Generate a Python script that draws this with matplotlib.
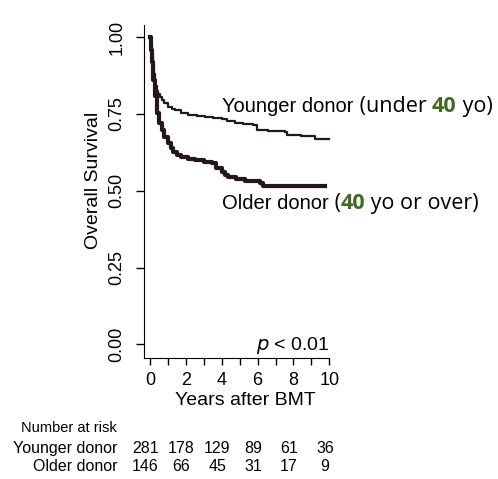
import numpy as np
import matplotlib
matplotlib.use('Agg')
from matplotlib import pyplot as plt
from matplotlib import transforms

plt.rcParams['font.family'] = ['Liberation Sans', 'DejaVu Sans']

# Kaplan-Meier curves (years, survival)
young_t = [0, 0.05, 0.1, 0.15, 0.2, 0.25, 0.3, 0.36, 0.45, 0.55, 0.64, 0.8, 1.0, 1.2,
           1.38, 1.7, 2.12, 2.6, 3.06, 3.5, 3.99, 4.3, 4.73, 5.2, 5.76, 5.94, 6.6,
           7.53, 7.62, 8.4, 9.1, 9.2, 10.0]
young_s = [1.0, 0.97, 0.94, 0.91, 0.88, 0.86, 0.84, 0.826, 0.815, 0.805, 0.796, 0.785,
           0.774, 0.768, 0.763, 0.755, 0.747, 0.743, 0.739, 0.736, 0.733, 0.728, 0.72,
           0.716, 0.714, 0.698, 0.696, 0.693, 0.682, 0.68, 0.678, 0.668, 0.668]
old_t = [0, 0.05, 0.1, 0.17, 0.25, 0.36, 0.5, 0.64, 0.8, 1.0, 1.15, 1.28, 1.5, 1.75,
         2.1, 2.5, 3.0, 3.43, 3.7, 3.99, 4.2, 4.36, 4.8, 5.29, 6.13, 6.31, 9.76]
old_s = [1.0, 0.96, 0.92, 0.861, 0.81, 0.752, 0.72, 0.698, 0.675, 0.655, 0.64, 0.627,
         0.618, 0.611, 0.605, 0.6, 0.595, 0.59, 0.575, 0.562, 0.553, 0.546, 0.54,
         0.533, 0.526, 0.516, 0.516]

# Number at risk table
risk_times = [0, 2, 4, 6, 8, 10]
risk_young = [281, 178, 129, 89, 61, 36]
risk_old = [146, 66, 45, 31, 17, 9]
group_names = ['Younger donor', 'Older donor']

xticks = list(range(11))
xticklabels = ['0', '', '2', '', '4', '', '6', '', '8', '', '10']
yticks = [0, 0.25, 0.5, 0.75, 1.0]
yticklabels = ['0.00', '0.25', '0.50', '0.75', '1.00']

ink = '#231815'
green = '#3f6a22'

fig = plt.figure(figsize=(4.98, 4.79), dpi=100)
ax = fig.add_axes([0.2898, 0.2532, 0.3859, 0.6946])

ax.step(young_t, young_s, where='post', color=ink, lw=1.6)
ax.step(old_t, old_s, where='post', color=ink, lw=3.0)

ax.set_xlim(-0.32, 10.4)
ax.set_ylim(-0.0436, 1.04)

# R-style axes
ax.spines['top'].set_visible(False)
ax.spines['right'].set_visible(False)
ax.spines['bottom'].set_bounds(-0.32, 10)
ax.set_xticks(xticks)
ax.set_xticklabels(xticklabels, fontsize=13)
ax.set_yticks(yticks)
ax.set_yticklabels(yticklabels, fontsize=13, rotation=90, va='center')
ax.tick_params(axis='x', length=5, width=1, pad=5)
ax.tick_params(axis='y', length=6, width=1, pad=7.5)

ax.set_xlabel('Years after BMT', fontsize=14, va='center')
ax.xaxis.set_label_coords(0.524, -0.13)
ax.set_ylabel('Overall Survival', fontsize=14, va='center')
ax.yaxis.set_label_coords(-0.265, 0.534)

# p value
ax.text(10, -0.019, '$p$ < 0.01', fontsize=14, ha='right', va='baseline')

# curve labels with coloured age
def label(x, y, first, parts):
    t = ax.text(x, y, first, fontsize=14.5, ha='left', va='baseline', clip_on=False)
    for s, c, w in parts:
        t = ax.annotate(s, xy=(1, y), xycoords=(t, 'data'), fontsize=15.5,
                        family='Open Sans', color=c, fontweight=w,
                        ha='left', va='baseline', annotation_clip=False)

label(4.02, 0.757, 'Younger donor',
      [(' (under ', 'black', 'normal'), ('40', green, 'bold'), (' yo)', 'black', 'normal')])
label(4.02, 0.44, 'Older donor',
      [(' (', 'black', 'normal'), ('40', green, 'bold'), (' yo or over)', 'black', 'normal')])

# number at risk
trans = transforms.blended_transform_factory(ax.transData, fig.transFigure)
fig.text(0.235, 0.1065, 'Number at risk', fontsize=10.5, ha='right', va='center')
rows = [(0.0647, risk_young), (0.0251, risk_old)]
for name, (yy, vals) in zip(group_names, rows):
    fig.text(0.235, yy, name, fontsize=11.5, ha='right', va='center')
    for t, v in zip(risk_times, vals):
        ax.text(t - 0.25, yy, str(v), fontsize=11.5, ha='center', va='center',
                transform=trans, clip_on=False)

fig.savefig('out.png', dpi=100)
